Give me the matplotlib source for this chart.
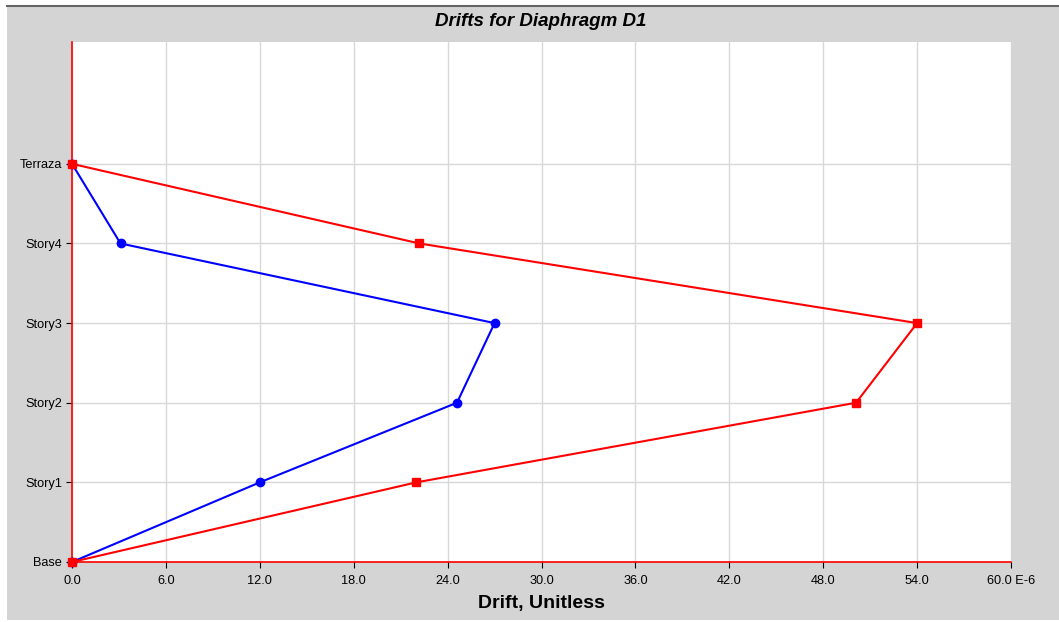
import matplotlib.pyplot as plt
from matplotlib.lines import Line2D

# Story names and drift values (x1e-6)
stories = ['Base', 'Story1', 'Story2', 'Story3', 'Story4', 'Terraza']
drift_x = [0.0, 12.0, 24.6, 27.0, 3.1, 0.0]     # blue
drift_y = [0.0, 22.0, 50.1, 54.0, 22.2, 0.0]    # red
x_ticks = [0, 6, 12, 18, 24, 30, 36, 42, 48, 54, 60]
x_tick_labels = ['0.0', '6.0', '12.0', '18.0', '24.0', '30.0', '36.0',
                 '42.0', '48.0', '54.0', '60.0 E-6']

plt.rcParams['font.family'] = ['Liberation Sans', 'DejaVu Sans']

BG = '#d4d4d4'
fig = plt.figure(figsize=(10.59, 6.22), dpi=100, facecolor='white')

# grey panel with dark top border, white strip at left and bottom
fig.patches.append(plt.Rectangle((7 / 1059, 2 / 622), 1, 1 - 8 / 622,
                                 transform=fig.transFigure, facecolor=BG,
                                 edgecolor='none', zorder=-2))
fig.add_artist(Line2D([7 / 1059, 1], [1 - 5.5 / 622, 1 - 5.5 / 622],
                      transform=fig.transFigure, color='#666666', lw=1.5))

ax = fig.add_axes([72 / 1059, 1 - 562 / 622, (1011 - 72) / 1059, (562 - 42) / 622])
ax.set_facecolor('white')

levels = list(range(len(stories)))
ax.plot(drift_x, levels, color='#0000ff', lw=1.5, marker='o', ms=6,
        zorder=3, clip_on=False)
ax.plot(drift_y, levels, color='#ff0000', lw=1.5, marker='s', ms=5.5,
        zorder=4, clip_on=False)

ax.set_xlim(0, 60)
ax.set_ylim(0, 6.53)
ax.set_xticks(x_ticks)
ax.set_xticklabels(x_tick_labels, fontsize=9.2)
ax.set_yticks(levels)
ax.set_yticklabels(stories, fontsize=9.2)
ax.tick_params(axis='both', length=4, width=0.8, color='black')
ax.tick_params(axis='x', pad=5)
ax.tick_params(axis='y', pad=3)

ax.grid(True, color='#d8d8d8', lw=1)
ax.set_axisbelow(True)
for s in ['top', 'right']:
    ax.spines[s].set_visible(False)
for s in ['left', 'bottom']:
    ax.spines[s].set_color('#ff0000')
    ax.spines[s].set_linewidth(1.2)

ax.set_xlabel('Drift, Unitless', fontsize=14, fontweight='bold', labelpad=6)
fig.text(0.511, 1 - 21 / 622, 'Drifts for Diaphragm D1', ha='center',
         va='center', fontsize=13.5, fontweight='bold', style='italic')

fig.savefig('out.png', dpi=100, facecolor=fig.get_facecolor())
